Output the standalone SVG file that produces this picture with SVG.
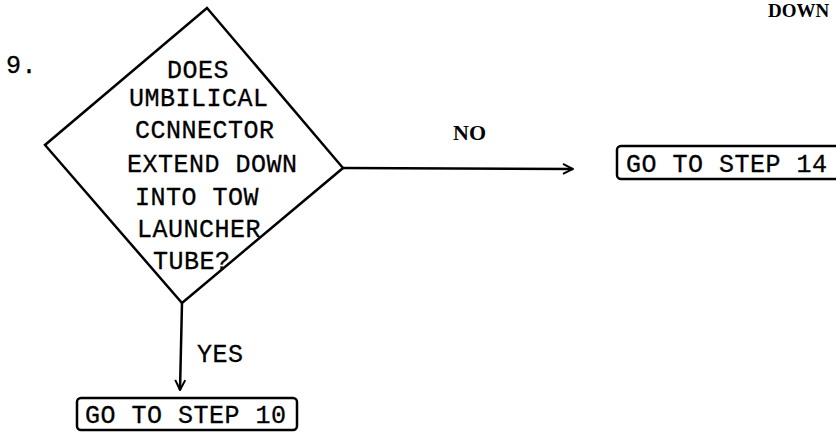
<svg xmlns="http://www.w3.org/2000/svg" width="836" height="432" viewBox="0 0 836 432">
<style>
.t{font-family:"Liberation Mono","Courier New",monospace;font-size:25px;letter-spacing:0.5px;fill:#000;stroke:#000;stroke-width:0.3px}
.s{font-family:"Liberation Serif","Times New Roman",serif;font-weight:bold;fill:#000}
.ln{fill:none;stroke:#000;stroke-width:2.5;stroke-linejoin:miter}
.box{fill:none;stroke:#000;stroke-width:2.5}
</style>
<defs>
<marker id="ah" viewBox="0 0 12 12" refX="11" refY="6" markerWidth="12" markerHeight="12" markerUnits="userSpaceOnUse" orient="auto">
<path d="M1,1 L11,6 L1,11" fill="none" stroke="#000" stroke-width="2"/>
</marker>
</defs>
<rect width="836" height="432" fill="#fff"/>
<text class="s" x="768" y="17" font-size="19">DOWN</text>
<text class="t" x="6" y="73">9.</text>
<g id="decision9">
<polygon class="ln" points="207,8 343,168 182,303 45,145"/>
<text class="t" x="167" y="78">DOES</text>
<text class="t" x="129" y="106">UMBILICAL</text>
<text class="t" x="135" y="138">CCNNECTOR</text>
<text class="t" x="127" y="172">EXTEND DOWN</text>
<text class="t" x="135" y="205">INTO TOW</text>
<text class="t" x="137" y="237">LAUNCHER</text>
<text class="t" x="153" y="269">TUBE?</text>
</g>
<g id="step14">
<rect class="box" x="617" y="146" width="230" height="33" rx="4"/>
<text class="t" x="626" y="172">GO TO STEP 14</text>
</g>
<g id="step10">
<rect class="box" x="77" y="398" width="220" height="32" rx="4"/>
<text class="t" x="85" y="423">GO TO STEP 10</text>
</g>
<g id="connectors">
<line class="ln" x1="343" y1="168" x2="573" y2="169" marker-end="url(#ah)"/>
<text class="s" x="453" y="140" font-size="22">NO</text>
<line class="ln" x1="182" y1="303" x2="180" y2="390" marker-end="url(#ah)"/>
<text class="t" x="197" y="362">YES</text>
</g>
</svg>
